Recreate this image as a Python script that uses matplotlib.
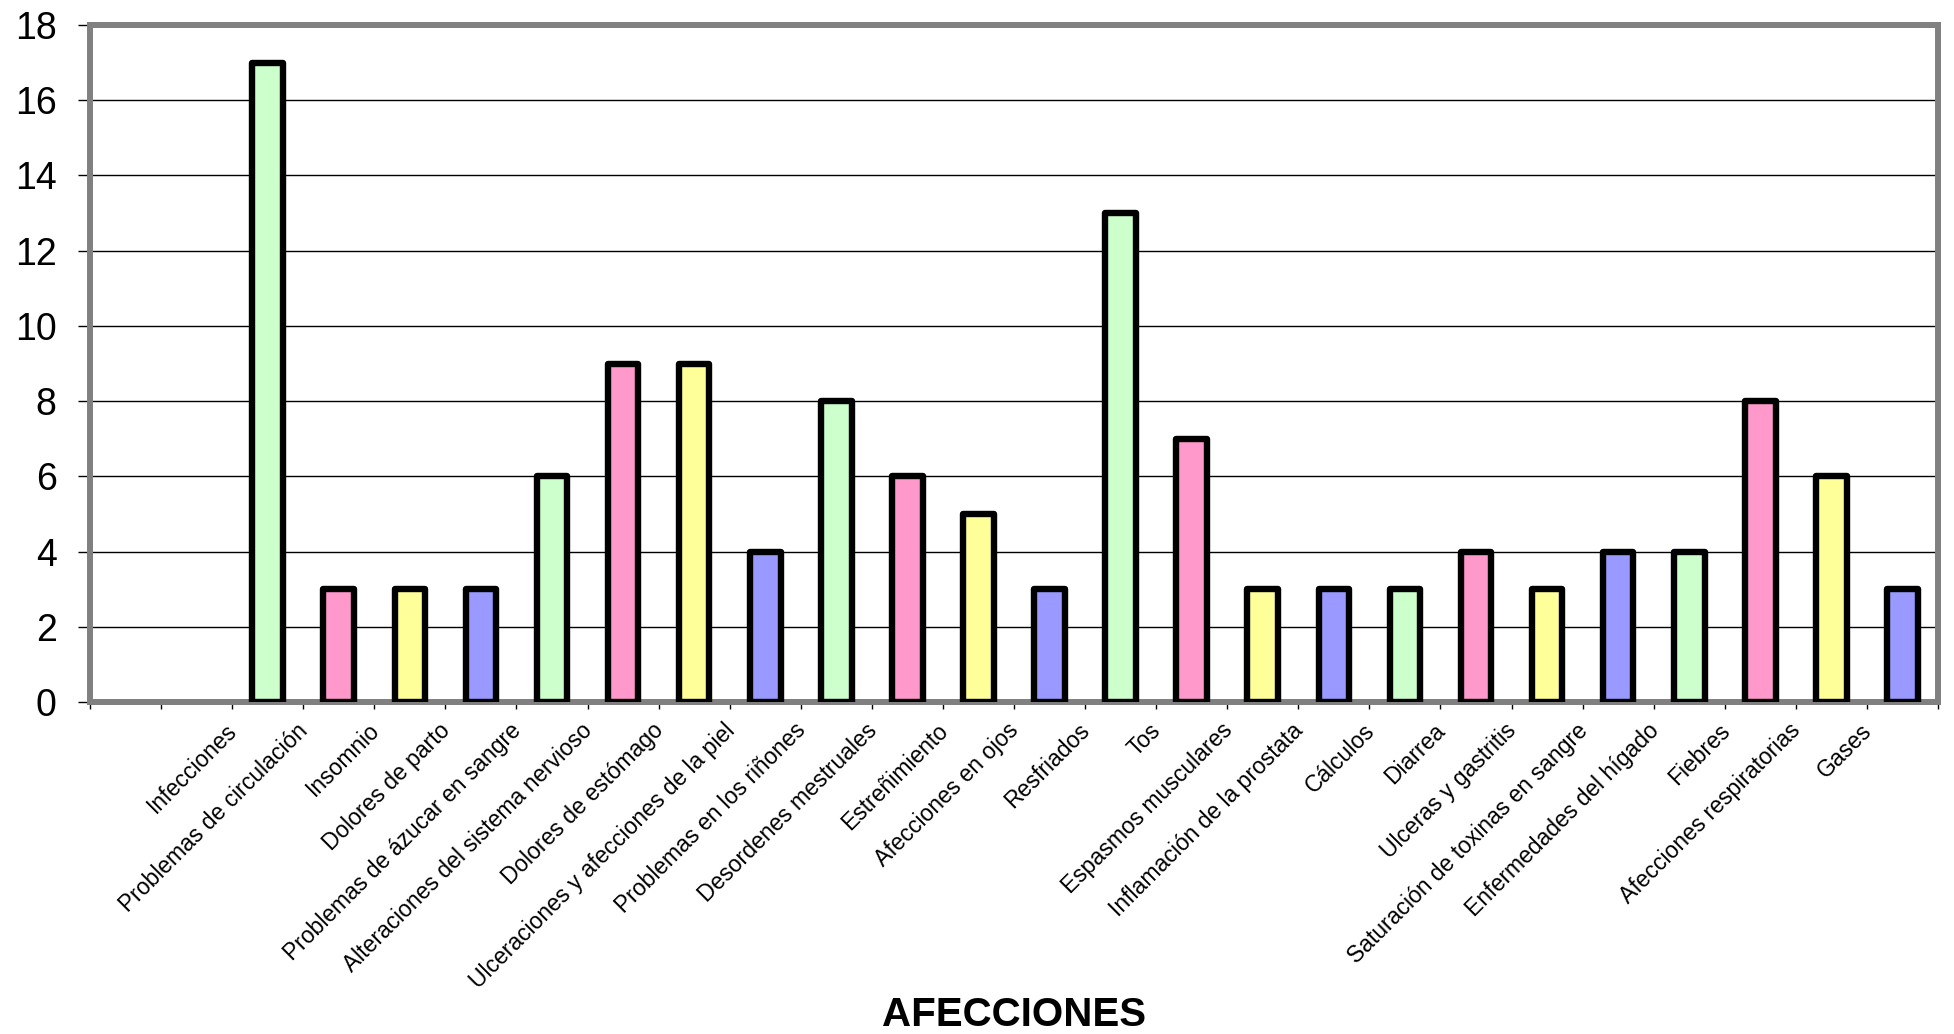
import numpy as np
import matplotlib
matplotlib.use("Agg")
import matplotlib.pyplot as plt

plt.rcParams['font.family'] = ['Liberation Sans', 'DejaVu Sans']

# two empty categories at the start of the axis (blank rows in the source range)
n_blank = 2
afecciones = ['Infecciones', 'Problemas de circulación', 'Insomnio', 'Dolores de parto',
              'Problemas de ázucar en sangre', 'Alteraciones del sistema nervioso',
              'Dolores de estómago', 'Ulceraciones y afecciones de la piel',
              'Problemas en los riñones', 'Desordenes mestruales', 'Estreñimiento',
              'Afecciones en ojos', 'Resfriados', 'Tos', 'Espasmos musculares',
              'Inflamación de la prostata', 'Cálculos', 'Diarrea', 'Ulceras y gastritis',
              'Saturación de toxinas en sangre', 'Enfermedades del hígado', 'Fiebres',
              'Afecciones respiratorias', 'Gases']
valores = [17, 3, 3, 3, 6, 9, 9, 4, 8, 6, 5, 3, 13, 7, 3, 3, 3, 4, 3, 4, 4, 8, 6, 3]
yticks = list(range(0, 19, 2))

colores = ['#CCFFCC', '#FF99CC', '#FFFF99', '#9999FF']

fig = plt.figure(figsize=(19.54, 10.34), dpi=100)
ax = fig.add_axes([90/1954, 1-702/1034, (1938-90)/1954, (702-25)/1034])

n_slots = n_blank + len(afecciones)
xpos = np.arange(n_blank, n_slots)
cols = [colores[i % 4] for i in range(len(valores))]
bars = ax.bar(xpos, valores, width=0.43, color=cols, edgecolor='black',
              linewidth=4.6, zorder=3)
for b in bars:
    b.set_joinstyle('round')

ax.set_xlim(-0.5, n_slots - 0.5)
ax.set_ylim(0, 18)
ax.set_yticks(yticks)
ax.set_yticklabels([str(v) for v in yticks], fontsize=27)
ax.yaxis.grid(True, color='black', linewidth=1.0, zorder=1)
ax.set_axisbelow(True)
ax.axhline(0, color='black', linewidth=1.2, zorder=2)

# tick marks at category boundaries; labels hang from the left boundary of their bar
bounds = np.arange(n_slots + 1) - 0.5
ax.set_xticks(bounds)
ax.set_xticklabels([''] * len(bounds))
ax.set_xticks(xpos - 0.5 + 0.02, minor=True)
ax.set_xticklabels(afecciones, minor=True, rotation=45, ha='right', va='center',
                   rotation_mode='anchor', fontsize=16.5)

ax.tick_params(axis='y', length=9, width=1, pad=15, color='black', direction='out')
ax.tick_params(axis='x', which='major', length=5, width=1, color='black', direction='out')
ax.tick_params(axis='x', which='minor', length=0, pad=18)

for s in ax.spines.values():
    s.set_color('#808080')
    s.set_linewidth(4.3)

fig.text(1014/1954, 1-1015/1034, 'AFECCIONES', ha='center', va='center',
         fontsize=29, fontweight='bold')

fig.savefig('out.png', dpi=100, facecolor='white')
